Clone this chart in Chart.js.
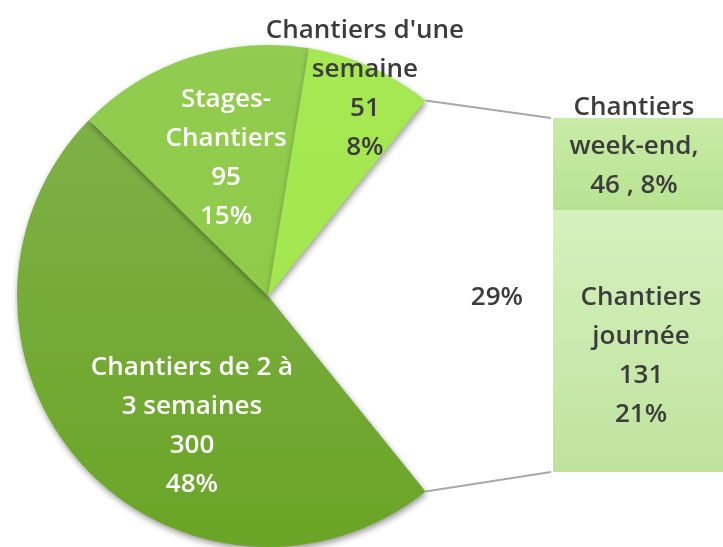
<!DOCTYPE html>
<html>
<head>
<meta charset="utf-8">
<script src="https://cdn.jsdelivr.net/npm/chart.js@4/dist/chart.umd.min.js"></script>
<style>
  html, body { margin: 0; padding: 0; background: #fff; overflow: hidden; }
  #wrap { position: relative; width: 723px; height: 547px; overflow: hidden; }
  canvas { position: absolute; left: 0; top: 0; }
</style>
</head>
<body>
<div id="wrap">
  <canvas id="pieChart" width="723" height="547"></canvas>
  <canvas id="barChart" width="800" height="547"></canvas>
</div>
<script>
// Pie data (last slice = the part broken out into the bar)
const pieCategories = ["Chantiers de 2 à 3 semaines", "Stages-Chantiers", "Chantiers d'une semaine", "Autres"];
const pieValues = [300, 95, 51, 177];
const piePercents = ["48%", "15%", "8%", "29%"];

// Bar data (split of "Autres"), bottom to top
const barCategories = ["Chantiers journée", "Chantiers week-end"];
const barValues = [131, 46];
const barPercents = ["21%", "8%"];

const FONT = "600 26px 'Open Sans', sans-serif";
const DARK = '#3c3c3c';
const LINE_H = 39;

// label lines and placement (relative to pie centre, in radius units)
const pieLabelStyle = [
    { lines: ['Chantiers de 2 à', '3 semaines', String(pieValues[0]), piePercents[0]], dx: -0.303, dy: 0.52, color: '#fff' },
    { lines: ['Stages-', 'Chantiers', String(pieValues[1]), piePercents[1]], dx: -0.167, dy: -0.55, color: '#fff' },
    { lines: ["Chantiers d'une", 'semaine', String(pieValues[2]), piePercents[2]], dx: 0.386, dy: -0.825, color: DARK },
    { lines: [piePercents[3]], dx: 0.912, dy: 0.008, color: DARK }
];
const barLabelStyle = [
    { lines: ['Chantiers', 'journée', String(barValues[0]), barPercents[0]], dx: 88, dy: 15 },
    { lines: ['Chantiers', 'week-end,', barValues[1] + ' , ' + barPercents[1]], dx: 81, dy: -17 }
];

function drawLines(ctx, lines, x, y, color) {
    ctx.save();
    ctx.font = FONT;
    ctx.fillStyle = color;
    ctx.textAlign = 'center';
    ctx.textBaseline = 'middle';
    lines.forEach((t, i) => {
        ctx.fillText(t, x, y + (i - (lines.length - 1) / 2) * LINE_H);
    });
    ctx.restore();
}

function vGrad(ctx, area, c1, c2) {
    const g = ctx.createLinearGradient(0, area.top, 0, area.bottom);
    g.addColorStop(0, c1);
    g.addColorStop(1, c2);
    return g;
}

// Shadow under the drawn shapes
const shadowPlugin = {
    id: 'shadow',
    beforeDatasetsDraw(chart) {
        const ctx = chart.ctx;
        ctx.save();
        ctx.shadowColor = 'rgba(0,0,0,0.4)';
        ctx.shadowBlur = 6;
        ctx.shadowOffsetX = 1;
        ctx.shadowOffsetY = 3;
    },
    afterDatasetsDraw(chart) {
        chart.ctx.restore();
    }
};

const total = pieValues.reduce((a, b) => a + b, 0);
const gapAngle = pieValues[3] / total * 360;

const pieLabelsPlugin = {
    id: 'pieLabels',
    afterDraw(chart) {
        const arcs = chart.getDatasetMeta(0).data;
        const cx = arcs[0].x, cy = arcs[0].y, r = arcs[0].outerRadius;
        pieLabelStyle.forEach(s => {
            drawLines(chart.ctx, s.lines, cx + s.dx * r, cy + s.dy * r, s.color);
        });
    }
};

const pieColors = [
    ['#82b24d', '#6aa526'],
    ['#92cc50', '#8cca40'],
    ['#a6e852', '#a2e548'],
    null
];

const pieChart = new Chart(document.getElementById('pieChart'), {
    type: 'pie',
    data: {
        labels: pieCategories,
        datasets: [{
            data: pieValues,
            backgroundColor: function(c) {
                const area = c.chart.chartArea;
                const col = pieColors[c.dataIndex];
                if (!area || !col) return 'rgba(0,0,0,0)';
                return vGrad(c.chart.ctx, area, col[0], col[1]);
            },
            borderWidth: 0,
            hoverOffset: 0
        }]
    },
    options: {
        responsive: false,
        animation: false,
        rotation: 90 + gapAngle / 2,
        layout: { padding: { left: 17, right: 204, top: 45, bottom: 0 } },
        plugins: {
            legend: { display: false },
            tooltip: { enabled: false }
        }
    },
    plugins: [shadowPlugin, pieLabelsPlugin]
});

// connector lines + bar labels
const barExtrasPlugin = {
    id: 'barExtras',
    afterDraw(chart) {
        const ctx = chart.ctx;
        const bottomBar = chart.getDatasetMeta(0).data[0];
        const topBar = chart.getDatasetMeta(1).data[0];
        const left = topBar.x - topBar.width / 2;

        const gap = pieChart.getDatasetMeta(0).data[3];
        const r = gap.outerRadius;
        const p1 = { x: gap.x + r * Math.cos(gap.startAngle), y: gap.y + r * Math.sin(gap.startAngle) };
        const p2 = { x: gap.x + r * Math.cos(gap.endAngle), y: gap.y + r * Math.sin(gap.endAngle) };

        ctx.save();
        ctx.strokeStyle = '#a8a8a8';
        ctx.lineWidth = 2;
        ctx.beginPath();
        ctx.moveTo(p1.x, p1.y);
        ctx.lineTo(left - 2, topBar.y);
        ctx.moveTo(p2.x, p2.y);
        ctx.lineTo(left - 2, bottomBar.base);
        ctx.stroke();
        ctx.restore();

        [bottomBar, topBar].forEach((b, i) => {
            const s = barLabelStyle[i];
            const mid = (b.y + b.base) / 2;
            drawLines(ctx, s.lines, left + s.dx, mid + s.dy, DARK);
        });
    }
};

const barColors = [
    ['#dcf6c8', '#bfe39e'],
    ['#c8eba6', '#8ccd58']
];

new Chart(document.getElementById('barChart'), {
    type: 'bar',
    data: {
        labels: ['Autres'],
        datasets: barCategories.map((name, i) => ({
            label: name,
            data: [barValues[i]],
            backgroundColor: function(c) {
                const el = c.chart.getDatasetMeta(c.datasetIndex).data[0];
                const area = c.chart.chartArea;
                if (!area) return barColors[i][0];
                const y0 = el && el.y !== undefined && !isNaN(el.y) ? Math.min(el.y, el.base) : area.top;
                const y1 = el && el.base !== undefined && !isNaN(el.base) ? Math.max(el.y, el.base) : area.bottom;
                const g = c.chart.ctx.createLinearGradient(0, y0, 0, y1);
                g.addColorStop(0, barColors[i][0]);
                g.addColorStop(1, barColors[i][1]);
                return g;
            },
            borderWidth: 0,
            barPercentage: 1,
            categoryPercentage: 1
        }))
    },
    options: {
        responsive: false,
        animation: false,
        layout: { padding: { left: 553, right: 60, top: 118, bottom: 75 } },
        scales: {
            x: { stacked: true, display: false },
            y: { stacked: true, display: false, min: 0, max: pieValues[3] }
        },
        plugins: {
            legend: { display: false },
            tooltip: { enabled: false }
        }
    },
    plugins: [shadowPlugin, barExtrasPlugin]
});
</script>
</body>
</html>
